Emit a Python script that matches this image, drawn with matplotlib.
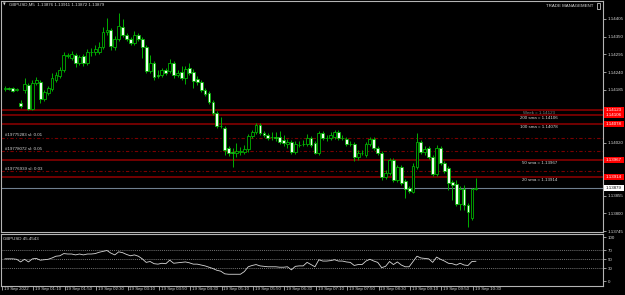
import matplotlib
matplotlib.use("Agg")
import matplotlib.pyplot as plt
from matplotlib import font_manager
from matplotlib.patches import Rectangle
import numpy as np

# GBPUSD M5 bars, prices in points (1e-5)
opens = [114187, 114190, 114190, 114184, 114143, 114184, 114199, 114125, 114206, 114209,
         114156, 114175, 114187, 114215, 114228, 114246, 114290, 114284, 114293, 114268,
         114290, 114268, 114302, 114302, 114302, 114318, 114364, 114371, 114318, 114343,
         114380, 114355, 114343, 114330, 114355, 114343, 114318, 114243, 114268, 114231,
         114231, 114246, 114243, 114268, 114231, 114240, 114221, 114252, 114240, 114218,
         114209, 114184, 114175, 114147, 114112, 114072, 114066, 114003, 113991, 113988,
         113991, 113991, 114000, 114041, 114053, 114075, 114050, 114044, 114038, 114038,
         114038, 114028, 114016, 114022, 113991, 114013, 114016, 114016, 114035, 114019,
         113988, 114050, 114035, 114035, 114038, 114053, 114035, 114031, 114016, 114016,
         113975, 113988, 113982, 114016, 114031, 114003, 113988, 113913, 113926, 113966,
         113904, 113944, 113901, 113879, 113866, 113944, 114022, 113991, 114003, 113975,
         113922, 114003, 113957, 113941, 113898, 113891, 113829, 113876, 113826, 113785,
         113876]
closes = [114190, 114187, 114181, 114187, 114134, 114203, 114125, 114206, 114215, 114156,
          114178, 114190, 114221, 114231, 114246, 114293, 114293, 114296, 114268, 114287,
          114268, 114302, 114302, 114312, 114318, 114364, 114371, 114321, 114343, 114383,
          114355, 114343, 114330, 114355, 114343, 114318, 114243, 114268, 114224, 114228,
          114246, 114237, 114268, 114231, 114237, 114221, 114249, 114237, 114212, 114209,
          114184, 114172, 114147, 114112, 114072, 114072, 113997, 113988, 113988, 113994,
          113994, 114000, 114041, 114053, 114075, 114050, 114044, 114035, 114038, 114035,
          114022, 114019, 114022, 113991, 114016, 114013, 114016, 114035, 114013, 113988,
          114050, 114035, 114035, 114044, 114053, 114035, 114035, 114016, 114016, 113975,
          113988, 113988, 114016, 114031, 114003, 113988, 113913, 113926, 113966, 113904,
          113944, 113894, 113876, 113870, 113947, 114022, 113991, 114000, 113975, 113922,
          114003, 113957, 113932, 113894, 113888, 113829, 113876, 113826, 113804, 113876,
          113879]
highs = [114196, 114193, 114193, 114190, 114153, 114221, 114206, 114215, 114224, 114215,
         114184, 114196, 114237, 114240, 114256, 114302, 114299, 114305, 114299, 114293,
         114296, 114312, 114315, 114324, 114333, 114380, 114408, 114377, 114352, 114424,
         114405, 114361, 114349, 114368, 114361, 114349, 114324, 114293, 114274, 114246,
         114252, 114252, 114280, 114274, 114246, 114259, 114259, 114268, 114249, 114228,
         114215, 114190, 114181, 114153, 114119, 114100, 114072, 114010, 114003, 114019,
         114006, 114013, 114047, 114059, 114081, 114081, 114056, 114050, 114053, 114053,
         114056, 114044, 114031, 114028, 114025, 114025, 114028, 114047, 114041, 114025,
         114056, 114056, 114044, 114053, 114059, 114059, 114044, 114038, 114025, 114022,
         113997, 113997, 114022, 114038, 114038, 114010, 113994, 113935, 113972, 113972,
         113950, 113950, 113907, 113885, 113957, 114050, 114028, 114010, 114010, 113982,
         114013, 114010, 113963, 113947, 113904, 113904, 113885, 113888, 113832, 113879,
         113911]
lows = [114181, 114184, 114178, 114181, 114128, 114175, 114122, 114122, 114199, 114143,
        114150, 114168, 114181, 114209, 114221, 114240, 114284, 114277, 114256, 114262,
        114259, 114262, 114290, 114293, 114296, 114312, 114355, 114308, 114308, 114336,
        114349, 114336, 114324, 114324, 114336, 114284, 114237, 114237, 114215, 114221,
        114224, 114231, 114237, 114221, 114224, 114215, 114203, 114231, 114190, 114199,
        114178, 114165, 114140, 114106, 114066, 114066, 113982, 113978, 113944, 113975,
        113982, 113985, 113991, 114035, 114047, 114044, 114038, 114028, 114028, 114025,
        114016, 114010, 114003, 113985, 113985, 114006, 114010, 114010, 114006, 113985,
        113982, 114028, 114025, 114028, 114031, 114028, 114028, 114010, 114010, 113963,
        113966, 113982, 113975, 114010, 113997, 113982, 113904, 113907, 113919, 113898,
        113898, 113888, 113848, 113863, 113863, 113938, 113985, 113982, 113969, 113916,
        113916, 113950, 113926, 113873, 113841, 113823, 113810, 113810, 113757, 113779,
        113872]
rsi = [51, 51, 51, 50, 44, 50, 44, 51, 52, 48,
       49, 50, 53, 57, 58, 63, 62, 62, 60, 62,
       60, 62, 62, 63, 66, 68, 70, 64, 60, 67,
       65, 61, 58, 60, 57, 51, 43, 45, 40, 39,
       41, 40, 48, 41, 42, 43, 44, 42, 39, 39,
       37, 35, 32, 29, 25, 23, 17, 16, 16, 16,
       16, 22, 33, 36, 38, 35, 34, 33, 33, 33,
       32, 32, 33, 26, 34, 35, 35, 43, 38, 33,
       49, 46, 46, 47, 49, 46, 46, 44, 43, 36,
       38, 38, 46, 50, 46, 43, 31, 34, 45, 38,
       44, 37, 33, 33, 45, 57, 53, 52, 51, 43,
       55, 50, 46, 41, 40, 37, 41, 37, 36, 45,
       45.4543]

level_prices = [114123, 114106, 114078, 113967, 113914]
level_labels = ["Week = 1.14123", "200 sma = 1.14106", "100 sma = 1.14078",
                "50 sma = 1.13967", "20 sma = 1.13914"]
sl_prices = [114035, 113993, 113931]
sl_labels = ["#19775283 sl: 0.01", "#19778072 sl: 0.05", "#19776939 sl: 0.03"]
last_price = 113879
price_ticks = [114405, 114350, 114295, 114240, 114185, 114130, 114075,
               114020, 113965, 113910, 113855, 113800, 113745]
# ticks whose labels sit under the line price boxes
covered_ticks = [114130, 114075, 113965, 113910]
rsi_ticks = [0, 30, 50, 70, 100]
rsi_levels = [30, 50, 70]
time_labels = ["19 Sep 2022", "19 Sep 01:10", "19 Sep 01:50", "19 Sep 02:30",
               "19 Sep 03:10", "19 Sep 03:50", "19 Sep 04:30", "19 Sep 05:10",
               "19 Sep 05:50", "19 Sep 06:30", "19 Sep 07:10", "19 Sep 07:50",
               "19 Sep 08:30", "19 Sep 09:10", "19 Sep 09:50", "19 Sep 10:30"]

names = {f.name for f in font_manager.fontManager.ttflist}
FONT = "Liberation Sans Narrow" if "Liberation Sans Narrow" in names else "Liberation Sans"
FS = 3.9 if FONT == "Liberation Sans Narrow" else 3.2
plt.rcParams["font.family"] = [FONT, "DejaVu Sans"]
plt.rcParams["font.size"] = FS

GREEN = "#00b000"
BEAR = "#f0fff0"
DARKRED = "#7a0000"
FG = "#d8d8d8"
GRID = "#b4b4b4"

W, H = 625, 295
fig = plt.figure(figsize=(W / 100, H / 100), dpi=100, facecolor="black")


def px_axes(l, t, r, b):
    a = fig.add_axes([l / W, 1 - b / H, (r - l) / W, (b - t) / H])
    a.set_facecolor("black")
    for s in a.spines.values():
        s.set_color(GRID)
        s.set_linewidth(0.8)
    return a


o = np.array(opens) / 1e5
c = np.array(closes) / 1e5
hi = np.array(highs) / 1e5
lo = np.array(lows) / 1e5
x = np.arange(len(o))

# main price panel
ax = px_axes(1, 1, 603, 232)
ax.set_xlim(-1.0, 152.4)
ax.set_ylim(1.13742, 1.14461)
ax.set_xticks([])

for p in level_prices:
    ax.axhline(p / 1e5, color=DARKRED, lw=1.3, zorder=1)
for p in sl_prices:
    ax.axhline(p / 1e5, color=DARKRED, lw=0.8, ls=(0, (3, 2, 1, 2)), zorder=1)
ax.axhline(last_price / 1e5, color="#6f7f8f", lw=0.8, zorder=1)

bull = c >= o
ax.vlines(x, lo, hi, color=GREEN, lw=0.7, zorder=2)
ax.bar(x, np.abs(c - o), bottom=np.minimum(o, c), width=0.72,
       color=np.where(bull, "black", BEAR), edgecolor=GREEN, linewidth=0.6, zorder=3)

yt = ax.get_yaxis_transform()
px = (1.14461 - 1.13742) / 231
for p, s in zip(level_prices, level_labels):
    col = "#808080" if s.startswith("Week") else FG
    ax.text(0.894, p / 1e5 - px, s, transform=yt, ha="center", va="top", color=col, zorder=4)
for p, s in zip(sl_prices, sl_labels):
    ax.text(0.006, p / 1e5 + 0.5 * px, s, transform=yt, ha="left", va="bottom", color=FG, zorder=4)

ax.yaxis.tick_right()
ax.set_yticks(np.array(price_ticks) / 1e5)
ax.set_yticklabels(["" if p in covered_ticks else f"{p / 1e5:.5f}" for p in price_ticks])
ax.tick_params(axis="y", colors=GRID, labelcolor=FG, length=2, width=0.6, pad=1.5)

bh = 6 * px
for p in level_prices + [last_price]:
    fc, tc = ("white", "black") if p == last_price else ("#ff0000", "white")
    ax.add_patch(Rectangle((1.0017, p / 1e5 - bh / 2), 0.0335, bh, transform=yt,
                           facecolor=fc, edgecolor="none", clip_on=False, zorder=6))
    ax.text(1.005, p / 1e5, f"{p / 1e5:.5f}", transform=yt, ha="left", va="center",
            color=tc, zorder=7, clip_on=False)

# oscillator panel
ax2 = px_axes(1, 234, 603, 286)
ax2.set_xlim(-1.0, 152.4)
ax2.set_ylim(-10.7, 107.5)
for v in rsi_levels:
    ax2.axhline(v, color="#9a9a9a", lw=0.5, ls=(0, (1.5, 1.5)))
ax2.plot(x, rsi, color="#d8d8d8", lw=0.6)
ax2.yaxis.tick_right()
ax2.set_yticks(rsi_ticks)
ax2.tick_params(axis="y", colors=GRID, labelcolor=FG, length=2, width=0.6, pad=1.5)
ax2.text(0.004, 0.9, f"GBPUSD {rsi[-1]:.4f}", transform=ax2.transAxes,
         ha="left", va="center", color=FG)

tpos = np.arange(len(time_labels)) * 8 - 0.76
ax2.set_xticks(tpos)
ax2.set_xticklabels([])
ax2.tick_params(axis="x", colors=GRID, length=3, width=0.6)
xt = ax2.get_xaxis_transform()
for t, s in zip(tpos, time_labels):
    ax2.text(t + 0.45, -0.02, s, transform=xt, ha="left", va="top", color=FG, clip_on=False)

# header texts
fig.text(3 / W, 1 - 5 / H, "\u25bc", color=FG, fontsize=FS * 0.8, va="center",
         family=["DejaVu Sans"])
fig.text(9 / W, 1 - 5 / H, "GBPUSD,M5  1.13876 1.13911 1.13872 1.13879", color=FG, va="center")
fig.text(570 / W, 1 - 6 / H, "TRADE MANAGEMENT", color=FG, ha="center", va="center")
fig.add_artist(Rectangle((597 / W, 1 - 9 / H), 3 / W, 6 / H, transform=fig.transFigure,
                         fill=False, edgecolor="#c0c0c0", lw=0.6))

fig.savefig("out.png", dpi=100, facecolor="black")
